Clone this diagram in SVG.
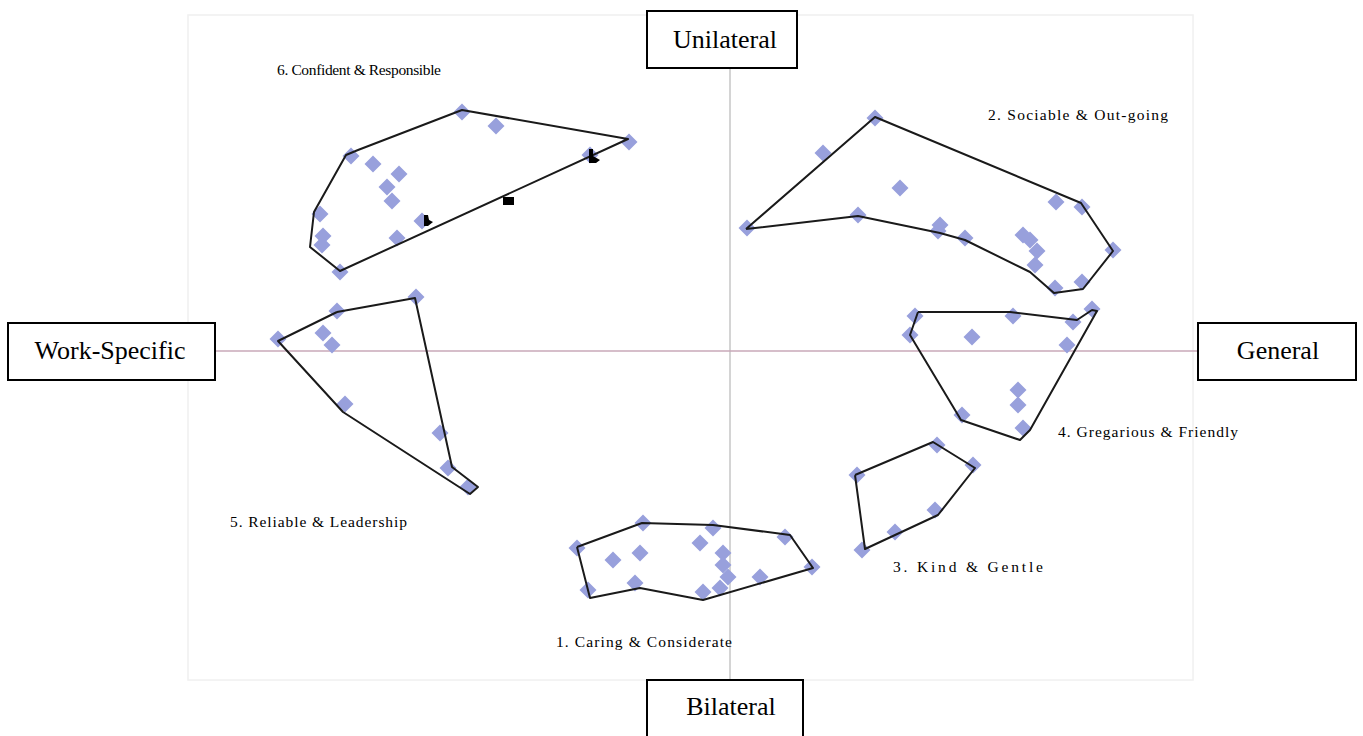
<svg xmlns="http://www.w3.org/2000/svg" xmlns:xlink="http://www.w3.org/1999/xlink" width="1363" height="736" viewBox="0 0 1363 736">
<style>
.box{fill:#fff;stroke:#000;stroke-width:2}
.ax{font-family:"Liberation Serif","Times New Roman",serif;font-size:26px;fill:#000;text-anchor:middle}
.lbl{font-family:"Liberation Serif","Times New Roman",serif;font-size:15.5px;fill:#000}
.hull{fill:none;stroke:#1a1a1a;stroke-width:2;stroke-linejoin:round}
.pt{fill:#98a0dc}
</style>
<defs>
<path id="d" d="M0,-8.5 L8.5,0 L0,8.5 L-8.5,0Z"/>
</defs>
<rect x="0" y="0" width="1363" height="736" fill="#fff"/>
<rect x="188" y="15" width="1005" height="665" fill="none" stroke="#f0f0f0" stroke-width="1.5"/>
<g id="connectors">
<line x1="730" y1="68" x2="730" y2="680" stroke="#b8b8b8" stroke-width="1.2"/>
<line x1="215" y1="351" x2="1198" y2="351" stroke="#c9a9b9" stroke-width="1.5"/>
</g>
<g id="cluster6">
<g class="pt">
<use href="#d" x="462" y="112"/><use href="#d" x="496" y="126"/><use href="#d" x="629" y="142"/><use href="#d" x="590" y="155"/>
<use href="#d" x="351" y="156"/><use href="#d" x="373" y="164"/><use href="#d" x="399" y="174"/><use href="#d" x="387" y="187"/>
<use href="#d" x="392" y="201"/><use href="#d" x="320" y="214"/><use href="#d" x="422" y="221"/><use href="#d" x="323" y="236"/>
<use href="#d" x="322" y="245"/><use href="#d" x="397" y="238"/><use href="#d" x="340" y="272"/>
</g>
<polyline class="hull" points="358,150 462,110 628,139 340,271 310,247 314,212 346,155 358,150"/>
<path d="M589,149 L593,149 L593,156 L600,160 L596,163 L589,163Z" fill="#000"/>
<rect x="503" y="197" width="11" height="8" fill="#000"/>
<path d="M424,215 L428,215 L429,220 L433,222 L428,226 L424,226Z" fill="#000"/>
<text class="lbl" x="277" y="75" textLength="164" lengthAdjust="spacing">6. Confident &amp; Responsible</text>
</g>
<g id="cluster2">
<g class="pt">
<use href="#d" x="875" y="118"/><use href="#d" x="823" y="153"/><use href="#d" x="900" y="188"/><use href="#d" x="747" y="228"/>
<use href="#d" x="858" y="215"/><use href="#d" x="940" y="225"/><use href="#d" x="938" y="231"/><use href="#d" x="965" y="238"/>
<use href="#d" x="1056" y="202"/><use href="#d" x="1082" y="207"/><use href="#d" x="1023" y="235"/><use href="#d" x="1030" y="240"/>
<use href="#d" x="1037" y="251"/><use href="#d" x="1035" y="265"/><use href="#d" x="1113" y="250"/><use href="#d" x="1055" y="288"/>
<use href="#d" x="1082" y="282"/>
</g>
<polyline class="hull" points="746,229 875,117 1081,203 1113,251 1083,289 1054,293 1030,272 965,240 940,233 858,216 746,229"/>
<text class="lbl" x="988" y="120" textLength="180" lengthAdjust="spacing">2. Sociable &amp; Out-going</text>
</g>
<g id="cluster5">
<g class="pt">
<use href="#d" x="278" y="339"/><use href="#d" x="337" y="311"/><use href="#d" x="416" y="297"/><use href="#d" x="323" y="333"/>
<use href="#d" x="332" y="345"/><use href="#d" x="345" y="404"/><use href="#d" x="440" y="433"/><use href="#d" x="448" y="468"/>
<use href="#d" x="468" y="487"/>
</g>
<polyline class="hull" points="337,312 415,298 452,467 478,487 470,494 343,412 278,341 337,312"/>
<text class="lbl" x="230" y="527" textLength="177" lengthAdjust="spacing">5. Reliable &amp; Leadership</text>
</g>
<g id="cluster4">
<g class="pt">
<use href="#d" x="915" y="316"/><use href="#d" x="910" y="335"/><use href="#d" x="972" y="337"/><use href="#d" x="1013" y="316"/>
<use href="#d" x="1073" y="322"/><use href="#d" x="1092" y="309"/><use href="#d" x="1067" y="345"/><use href="#d" x="1018" y="390"/>
<use href="#d" x="1018" y="405"/><use href="#d" x="962" y="415"/><use href="#d" x="1023" y="428"/>
</g>
<polyline class="hull" points="918,312 1010,312 1077,320 1092,310 1097,311 1030,430 1020,440 961,420 910,335 918,312"/>
<text class="lbl" x="1058" y="437" textLength="180" lengthAdjust="spacing">4. Gregarious &amp; Friendly</text>
</g>
<g id="cluster3">
<g class="pt">
<use href="#d" x="937" y="445"/><use href="#d" x="973" y="465"/><use href="#d" x="857" y="475"/><use href="#d" x="935" y="510"/>
<use href="#d" x="895" y="532"/><use href="#d" x="862" y="550"/>
</g>
<polyline class="hull" points="855,475 933,442 975,468 938,515 865,549 855,475"/>
<text class="lbl" x="893" y="572" textLength="150" lengthAdjust="spacing">3. Kind &amp; Gentle</text>
</g>
<g id="cluster1">
<g class="pt">
<use href="#d" x="577" y="548"/><use href="#d" x="643" y="523"/><use href="#d" x="613" y="560"/><use href="#d" x="640" y="553"/>
<use href="#d" x="713" y="528"/><use href="#d" x="700" y="543"/><use href="#d" x="785" y="537"/><use href="#d" x="723" y="553"/>
<use href="#d" x="723" y="565"/><use href="#d" x="728" y="577"/><use href="#d" x="720" y="588"/><use href="#d" x="760" y="577"/>
<use href="#d" x="812" y="567"/><use href="#d" x="588" y="590"/><use href="#d" x="635" y="583"/><use href="#d" x="703" y="592"/>
</g>
<polyline class="hull" points="577,547 642,523 713,525 790,535 813,568 703,600 640,588 590,598 577,547"/>
<text class="lbl" x="556" y="647" textLength="176" lengthAdjust="spacing">1. Caring &amp; Considerate</text>
</g>
<g id="unilateral">
<rect class="box" x="647" y="11" width="150" height="57"/>
<text class="ax" x="725" y="48">Unilateral</text>
</g>
<g id="bilateral">
<rect class="box" x="647" y="680" width="156" height="70"/>
<text class="ax" x="731" y="715">Bilateral</text>
</g>
<g id="workspecific">
<rect class="box" x="8" y="323" width="207" height="57"/>
<text class="ax" x="110" y="359">Work-Specific</text>
</g>
<g id="general">
<rect class="box" x="1198" y="323" width="158" height="57"/>
<text class="ax" x="1278" y="359">General</text>
</g>
</svg>
